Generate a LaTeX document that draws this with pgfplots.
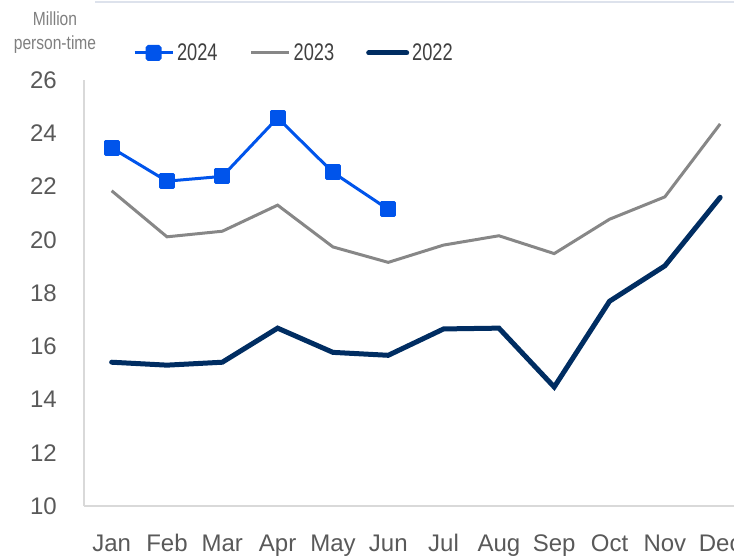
\documentclass[border=0pt]{standalone}
\usepackage{pgfplots}
\pgfplotsset{compat=1.18}
\usepackage{fontspec}
\setmainfont{Liberation Sans}
\newfontfamily\narrowfont[FakeStretch=0.76]{Liberation Sans}
\newfontfamily\titlefont[FakeStretch=0.82]{Liberation Sans}
\definecolor{c24}{RGB}{0,84,235}
\definecolor{c23}{RGB}{135,135,135}
\definecolor{c22}{RGB}{0,45,98}
\definecolor{tickgray}{RGB}{89,89,89}
\definecolor{axgray}{RGB}{217,217,217}
\definecolor{leggray}{RGB}{64,64,64}
\definecolor{titlegray}{RGB}{127,127,127}
\begin{document}
\begin{tikzpicture}
\begin{axis}[
  at={(84bp,51bp)}, anchor=south west,
  scale only axis, width=650bp, height=426bp,
  xmin=-0.5, xmax=11.25, ymin=10, ymax=26,
  ytick={10,12,...,26},
  xtick={0,...,11},
  xticklabels={Jan,Feb,Mar,Apr,May,Jun,Jul,Aug,Sep,Oct,Nov,Dec},
  axis lines*=left,
  axis line style={draw=axgray, line width=1.3bp},
  major tick style={draw=none},
  /pgf/number format/assume math mode=true,
  tick label style={font=\fontsize{24bp}{28bp}\selectfont, text=tickgray},
  yticklabel style={inner sep=0pt, xshift=-27bp},
  xticklabel style={inner sep=0pt, anchor=base, yshift=-45bp},
  clip=false,
  legend columns=3,
  legend style={at={(axis description cs:0.0755,1.0634)}, anchor=west, draw=none, fill=none,
    inner sep=0pt, outer sep=0pt, column sep=1bp,
    font=\narrowfont\fontsize{24bp}{28bp}\selectfont, text=leggray,
    /tikz/every even column/.append style={column sep=30bp}},
]
\addplot[c24, line width=3bp, mark=square*, mark size=6.5bp, mark options={solid, fill=c24, line join=round, rounded corners=1.5bp},
  legend image code/.code={\draw[c24, line width=3bp] (0bp,0bp) -- (38bp,0bp);
    \fill[c24, rounded corners=1.5bp] (12.5bp,-6.5bp) rectangle (25.5bp,6.5bp);}]
  coordinates {(0,23.45) (1,22.2) (2,22.38) (3,24.58) (4,22.53) (5,21.14)};
\addlegendentry{2024}
\addplot[c23, line width=3bp, mark=none,
  legend image code/.code={\draw[c23, line width=3bp] (0bp,0bp) -- (38bp,0bp);}]
  coordinates {(0,21.84) (1,20.11) (2,20.32) (3,21.30) (4,19.73) (5,19.15) (6,19.8) (7,20.15) (8,19.48) (9,20.77) (10,21.61) (11,24.35)};
\addlegendentry{2023}
\addplot[c22, line width=5bp, mark=none, line cap=round,
  legend image code/.code={\draw[c22, line width=5bp, line cap=round] (0bp,0bp) -- (38bp,0bp);}]
  coordinates {(0,15.40) (1,15.29) (2,15.40) (3,16.68) (4,15.77) (5,15.66) (6,16.65) (7,16.68) (8,14.47) (9,17.69) (10,19.02) (11,21.59)};
\addlegendentry{2022}
\end{axis}
\draw[color={rgb,255:red,221;green,226;blue,236}, line width=1.5bp] (95bp,555bp) -- (734bp,555bp);
\node[font=\titlefont\fontsize{19bp}{24bp}\selectfont, text=titlegray, align=center, inner sep=0pt, anchor=base] at (55bp,531bp) {Million};
\node[font=\titlefont\fontsize{19bp}{24bp}\selectfont, text=titlegray, align=center, inner sep=0pt, anchor=base] at (55bp,507bp) {person-time};
\pgfresetboundingbox
\useasboundingbox (0,0) rectangle (734bp,557bp);
\end{tikzpicture}
\end{document}
